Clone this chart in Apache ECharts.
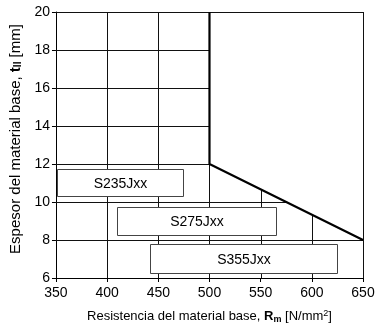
<!DOCTYPE html>
<html>
<head>
<meta charset="utf-8">
<script src="https://cdn.jsdelivr.net/npm/echarts@6/dist/echarts.min.js"></script>
<style>html,body{margin:0;padding:0;background:#fff}#c{width:380px;height:336px}</style>
</head>
<body>
<div id="c"></div>
<script>
// Axis ticks
const xTicks = [350, 400, 450, 500, 550, 600, 650];
const yTicks = [6, 8, 10, 12, 14, 16, 18, 20];
// Boundary line (thick)
const boundaryX = [500, 500, 650];
const boundaryY = [20, 12, 8];
// Steel grade boxes
const grades = ['S235Jxx', 'S275Jxx', 'S355Jxx'];
const boxXStart = [351, 410, 442];
const boxXEnd = [474, 565, 625];
const boxYLow = [10.35, 8.3, 6.3];
const boxYHigh = [11.75, 9.75, 7.8];

const xMin = xTicks[0], xMax = xTicks[xTicks.length - 1];
const yMin = yTicks[0], yMax = yTicks[yTicks.length - 1];

// boundary helpers (geometric intersection with the polyline)
function boundaryXAt(y) {
  for (let i = 0; i < boundaryY.length - 1; i++) {
    const y1 = boundaryY[i], y2 = boundaryY[i + 1];
    if ((y <= y1 && y >= y2) || (y >= y1 && y <= y2)) {
      if (y1 === y2) return boundaryX[i + 1];
      const t = (y - y1) / (y2 - y1);
      return boundaryX[i] + t * (boundaryX[i + 1] - boundaryX[i]);
    }
  }
  return xMax;
}
function boundaryYAt(x) {
  if (x <= boundaryX[0]) return yMax;
  for (let i = 0; i < boundaryX.length - 1; i++) {
    const x1 = boundaryX[i], x2 = boundaryX[i + 1];
    if (x1 !== x2 && x >= x1 && x <= x2) {
      const t = (x - x1) / (x2 - x1);
      return boundaryY[i] + t * (boundaryY[i + 1] - boundaryY[i]);
    }
  }
  return yMin;
}

const gridSegs = [];
yTicks.forEach(y => {
  if (y === yMin) return;
  if (y === yMax) { gridSegs.push([xMin, y, xMax, y]); return; }
  gridSegs.push([xMin, y, boundaryXAt(y), y]);
});
xTicks.forEach(x => {
  if (x === xMin) return;
  if (x === xMax) { gridSegs.push([x, yMin, x, yMax]); return; }
  gridSegs.push([x, yMin, x, boundaryYAt(x)]);
});

const boxData = grades.map((g, i) => [boxXStart[i], boxYLow[i], boxXEnd[i], boxYHigh[i], g]);

const font = 'Liberation Sans, Arial, sans-serif';
const chart = echarts.init(document.getElementById('c'), null, {renderer: 'canvas'});
chart.setOption({
  animation: false,
  backgroundColor: '#fff',
  grid: {left: 54, right: 17, top: 12, bottom: 58},
  xAxis: {
    type: 'value', min: xMin, max: xMax, interval: 50,
    splitLine: {show: false},
    axisLine: {lineStyle: {color: '#000', width: 1}},
    axisTick: {length: 4, lineStyle: {color: '#000'}},
    axisLabel: {color: '#000', fontSize: 14, fontFamily: font, margin: 8},
    name: '{n|Resistencia del material base, }{b|R}{sub|m}{n| [N/mm}{sup|2}{n|]}',
    nameLocation: 'middle', nameGap: 31,
    nameTextStyle: {
      color: '#000', fontFamily: font, fontSize: 13,
      rich: {
        n: {fontSize: 13, fontFamily: font, color: '#000'},
        b: {fontSize: 13, fontFamily: font, color: '#000', fontWeight: 'bold'},
        sub: {fontSize: 9, fontFamily: font, color: '#000', fontWeight: 'bold', verticalAlign: 'bottom', padding: [6, 0, 0, 0]},
        sup: {fontSize: 9, fontFamily: font, color: '#000', verticalAlign: 'top', padding: [0, 0, 6, 0]}
      }
    }
  },
  yAxis: {
    type: 'value', min: yMin, max: yMax, interval: 2,
    splitLine: {show: false},
    axisLine: {lineStyle: {color: '#000', width: 1}},
    axisTick: {length: 4, lineStyle: {color: '#000'}},
    axisLabel: {color: '#000', fontSize: 14, fontFamily: font, margin: 6},
    name: '{n|Espesor del material base, }{b|t}{sub|II}{n| [mm]}',
    nameLocation: 'middle', nameGap: 32,
    nameTextStyle: {
      color: '#000', fontFamily: font, fontSize: 15,
      padding: [0, 0, 0, 12],
      rich: {
        n: {fontSize: 15, fontFamily: font, color: '#000'},
        b: {fontSize: 15, fontFamily: font, color: '#000', fontWeight: 'bold'},
        sub: {fontSize: 10, fontFamily: font, color: '#000', fontWeight: 'bold', verticalAlign: 'bottom', padding: [6, 0, 0, 0]}
      }
    }
  },
  series: [
    {
      type: 'custom', z: 1, silent: true,
      data: gridSegs,
      encode: {x: [0, 2], y: [1, 3]},
      renderItem: function (params, api) {
        const p1 = api.coord([api.value(0), api.value(1)]);
        const p2 = api.coord([api.value(2), api.value(3)]);
        const r = v => Math.round(v) + 0.5;
        const horiz = api.value(1) === api.value(3);
        return {
          type: 'line',
          shape: horiz
            ? {x1: p1[0], y1: r(p1[1]), x2: p2[0], y2: r(p2[1])}
            : {x1: r(p1[0]), y1: p1[1], x2: r(p2[0]), y2: p2[1]},
          style: {stroke: '#111', lineWidth: 1}
        };
      }
    },
    {
      type: 'custom', z: 2, silent: true,
      data: boxData,
      encode: {x: [0, 2], y: [1, 3]},
      renderItem: function (params, api) {
        const p1 = api.coord([api.value(0), api.value(3)]);
        const p2 = api.coord([api.value(2), api.value(1)]);
        const x = Math.round(p1[0]) + 0.5, y = Math.round(p1[1]) + 0.5;
        const w = Math.round(p2[0] - p1[0]), h = Math.round(p2[1] - p1[1]);
        return {
          type: 'group',
          children: [
            {type: 'rect', shape: {x: x, y: y, width: w, height: h},
             style: {fill: '#fff', stroke: '#444', lineWidth: 1}},
            {type: 'text', style: {text: boxData[params.dataIndex][4], x: x + w / 2, y: y + h / 2 + 1,
              align: 'center', verticalAlign: 'middle', fontSize: 14, fontFamily: font, fill: '#000'}}
          ]
        };
      }
    },
    {
      type: 'line', z: 3, silent: true, symbol: 'none',
      data: boundaryX.map((x, i) => [x, boundaryY[i]]),
      lineStyle: {color: '#000', width: 2.2}
    }
  ]
});
</script>
</body>
</html>
